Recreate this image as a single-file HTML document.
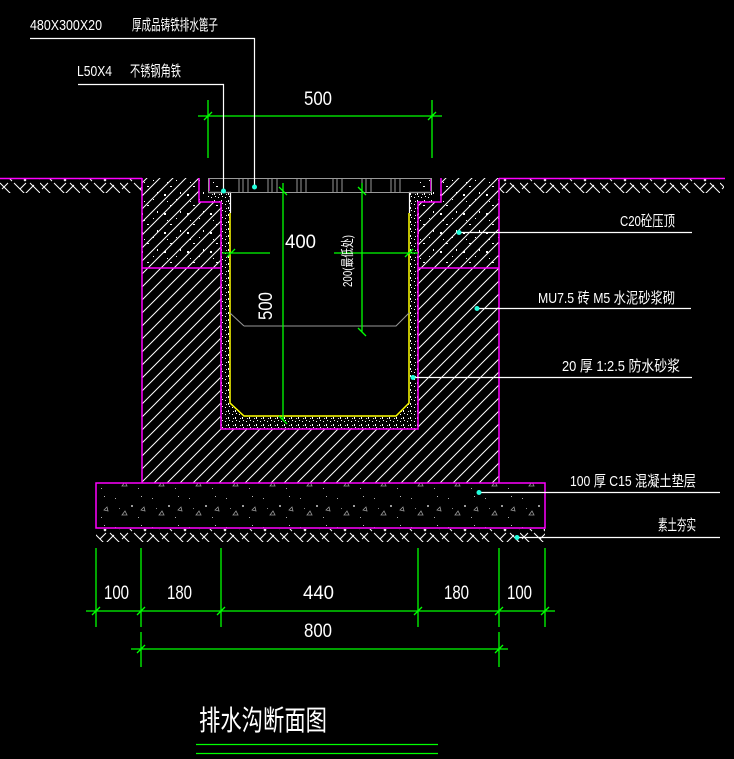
<!DOCTYPE html>
<html><head><meta charset="utf-8"><style>
html,body{margin:0;padding:0;background:#000;}
svg{display:block}
text{font-family:"Liberation Sans","Noto Sans CJK SC",sans-serif;fill:#fff;}
</style></head><body>
<svg width="734" height="759" viewBox="0 0 734 759" xmlns="http://www.w3.org/2000/svg">
<defs>
<pattern id="hat" width="13" height="13" patternUnits="userSpaceOnUse">
<path d="M-1,14 L14,-1 M-1,1 L1,-1 M12,14 L14,12" stroke="#fff" stroke-width="1"/>
</pattern>
<pattern id="dots" width="23" height="19" patternUnits="userSpaceOnUse">
<rect x="3" y="4" width="2" height="2" fill="#fff"/><rect x="15" y="9" width="1" height="1" fill="#fff"/>
<rect x="9" y="15" width="2" height="1" fill="#fff"/><rect x="19" y="2" width="1" height="2" fill="#fff"/>
<rect x="6" y="11" width="1" height="1" fill="#fff"/>
</pattern>
<pattern id="mort" width="7" height="7" patternUnits="userSpaceOnUse">
<rect x="1" y="1" width="1" height="1" fill="#fff"/><rect x="4" y="4" width="1" height="2" fill="#fff"/><rect x="5" y="0" width="1" height="1" fill="#fff"/><rect x="2" y="5" width="1" height="1" fill="#ddd"/>
</pattern>
<pattern id="conc" width="37" height="29" patternUnits="userSpaceOnUse">
<rect x="4" y="5" width="1" height="1" fill="#aaa"/><rect x="20" y="12" width="2" height="2" fill="#999"/>
<path d="M11 22 l3 -4 l2 4z" fill="none" stroke="#999" stroke-width="0.8"/>
<rect x="30" y="3" width="1" height="1" fill="#bbb"/><rect x="27" y="24" width="1" height="1" fill="#aaa"/>
<rect x="8" y="15" width="1" height="1" fill="#888"/><path d="M30 17 l3 -3 l1 4z" fill="none" stroke="#999" stroke-width="0.8"/>
</pattern>
<pattern id="earth" width="40" height="14" patternUnits="userSpaceOnUse">
<path d="M0,1 L12,13 M8,1 L2,7 M14,1 L26,13 M24,13 L34,3 M30,1 L40,11 M20,7 L26,1" stroke="#fff" stroke-width="1" fill="none"/>
</pattern>
</defs>

<!-- earth -->
<rect x="0" y="179" width="142" height="14" fill="url(#earth)"/>
<rect x="499" y="179" width="225" height="14" fill="url(#earth)"/>
<rect x="96" y="529" width="449" height="13" fill="url(#earth)"/>
<line x1="0" y1="178.5" x2="142" y2="178.5" stroke="#f0f" stroke-width="1.5"/>
<line x1="499" y1="178.5" x2="725" y2="178.5" stroke="#f0f" stroke-width="1.5"/>

<!-- masonry -->
<path d="M142,178 H199 V202 H221 V429 H418 V202 H441 V178 H499 V483 H142 Z" fill="url(#hat)"/>
<rect x="142" y="178" width="79" height="90" fill="url(#dots)"/>
<rect x="418" y="178" width="81" height="90" fill="url(#dots)"/>
<!-- mortar -->
<path d="M208,192 H230 V403 L244,416 H396 L409,403 V192 H432 V202 H418 V429 H221 V202 H208 Z" fill="#000"/>
<path d="M208,192 H230 V403 L244,416 H396 L409,403 V192 H432 V202 H418 V429 H221 V202 H208 Z" fill="url(#mort)"/>
<rect x="96" y="483" width="449" height="45" fill="url(#conc)"/>

<g fill="none" stroke="#f0f" stroke-width="1.5">
<path d="M142,178 V483 M499,178 V483"/>
<path d="M199,178 V202 H221 V429 H418 V202 H441 V178"/>
<path d="M142,268 H221 M418,268 H499"/>
<rect x="96" y="483" width="449" height="45"/>
<path d="M209,178 V191 M431,178 V191"/>
</g>
<!-- yellow channel -->
<path d="M230,213 V403 L244,416 H396 L409,403 V213" fill="none" stroke="#ff0" stroke-width="1.5"/>
<path d="M208,192.5 H230.5 V213 M432,192.5 H409.5 V213" fill="none" stroke="#fff" stroke-width="1.2"/>
<!-- grate -->
<g stroke="#999" stroke-width="1" fill="none">
<rect x="208.5" y="178.5" width="223" height="14"/>
<path d="M239,179V192M243,179V192M248,179V192M268,179V192M272,179V192M277,179V192M297,179V192M301,179V192M306,179V192M333,179V192M337,179V192M342,179V192M362,179V192M366,179V192M371,179V192M391,179V192M395,179V192M400,179V192"/>
<path d="M244,326 H396 L409,313 M244,326 L230,313"/>
</g>

<!-- green dims -->
<g stroke="#0f0" stroke-width="1.3" fill="none">
<path d="M198,116 H442 M208,100 V158 M432,100 V158 M204,120 L212,112 M428,120 L436,112"/>
<path d="M283,183 V420 M362,183 V332 M279,187 L287,195 M358,187 L366,195 M358,328 L366,336 M279,416 L287,424"/>
<path d="M222,253 H270 M334,253 H418 M227,257 L235,249 M405,257 L413,249"/>
<path d="M86,611 H555 M96,548 V627 M141,548 V627 M221,548 V627 M418,548 V627 M499,548 V627 M545,548 V627"/>
<path d="M92,615 L100,607 M137,615 L145,607 M217,615 L225,607 M414,615 L422,607 M495,615 L503,607 M541,615 L549,607"/>
<path d="M131,649 H508 M141,632 V667 M499,632 V667 M137,653 L145,645 M495,653 L503,645"/>
<path d="M196,744.5 H438 M196,753.5 H438"/>
</g>

<!-- leaders -->
<g stroke="#fff" stroke-width="1.2" fill="none">
<path d="M30,38.5 H254.5 V187"/>
<path d="M78,84.5 H223.5 V191"/>
<path d="M458,232.5 H692 M477,308.5 H691 M413,377.5 H692 M479,492.5 H720 M517,537.5 H720"/>
</g>
<g fill="#2fd">
<circle cx="254.5" cy="187" r="2.5"/><circle cx="223.5" cy="191" r="2.5"/>
<circle cx="459" cy="232.5" r="2.5"/><circle cx="477" cy="308.5" r="2.5"/>
<circle cx="413" cy="377.5" r="2.5"/><circle cx="479" cy="492.5" r="2.5"/><circle cx="517" cy="537.5" r="2.5"/>
</g>

<!-- text -->
<g font-size="15">
<text x="30" y="30" textLength="72" lengthAdjust="spacingAndGlyphs">480X300X20</text>
<text x="132" y="30" textLength="86" lengthAdjust="spacingAndGlyphs">厚成品铸铁排水篦子</text>
<text x="77" y="76" textLength="35" lengthAdjust="spacingAndGlyphs">L50X4</text>
<text x="130" y="76" textLength="51" lengthAdjust="spacingAndGlyphs">不锈钢角铁</text>
<text x="620" y="226" textLength="55" lengthAdjust="spacingAndGlyphs">C20砼压顶</text>
<text x="538" y="303" textLength="137" lengthAdjust="spacingAndGlyphs">MU7.5  砖 M5 水泥砂浆砌</text>
<text x="562" y="371" textLength="118" lengthAdjust="spacingAndGlyphs">20 厚 1:2.5  防水砂浆</text>
<text x="570" y="486" textLength="126" lengthAdjust="spacingAndGlyphs">100  厚 C15  混凝土垫层</text>
<text x="658" y="530" textLength="38" lengthAdjust="spacingAndGlyphs">素土夯实</text>
</g>
<g font-size="19">
<text x="304" y="105" textLength="28" lengthAdjust="spacingAndGlyphs">500</text>
<text x="285" y="248" textLength="31" lengthAdjust="spacingAndGlyphs">400</text>
<text transform="translate(272,320) rotate(-90)" textLength="28" lengthAdjust="spacingAndGlyphs">500</text>
<text x="104" y="599" textLength="25" lengthAdjust="spacingAndGlyphs">100</text>
<text x="167" y="599" textLength="25" lengthAdjust="spacingAndGlyphs">180</text>
<text x="303" y="599" textLength="31" lengthAdjust="spacingAndGlyphs">440</text>
<text x="444" y="599" textLength="25" lengthAdjust="spacingAndGlyphs">180</text>
<text x="507" y="599" textLength="25" lengthAdjust="spacingAndGlyphs">100</text>
<text x="304" y="637" textLength="28" lengthAdjust="spacingAndGlyphs">800</text>
</g>
<text transform="translate(352,287) rotate(-90)" font-size="13" textLength="52" lengthAdjust="spacingAndGlyphs">200(最低处)</text>
<text x="199" y="730" font-size="28" textLength="128" lengthAdjust="spacingAndGlyphs">排水沟断面图</text>
</svg>
</body></html>
